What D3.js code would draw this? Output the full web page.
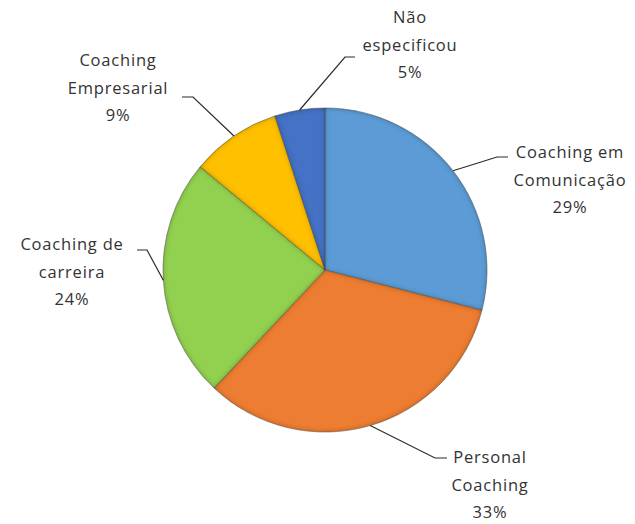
<!DOCTYPE html>
<html>
<head>
<meta charset="utf-8">
<script src="https://cdn.jsdelivr.net/npm/d3@7"></script>
<style>
  html, body { margin: 0; padding: 0; background: #fff; }
  svg { display: block; }
  .lbl { font-family: "Open Sans", "Liberation Sans", sans-serif; font-size: 16.5px; fill: #333; letter-spacing: 0.8px; }
</style>
</head>
<body>
<svg id="chart" width="635" height="524"></svg>
<script>
// Categories (each label split into its display lines), shares in percent, slice colours
const categories = [
  ["Coaching em", "Comunicação"],
  ["Personal", "Coaching"],
  ["Coaching de", "carreira"],
  ["Coaching", "Empresarial"],
  ["Não", "especificou"]
];
const shares = [29, 33, 24, 9, 5];
const colors = ["#5b9bd5", "#ed7d31", "#92d050", "#ffc000", "#4472c4"];

const cx = 325, cy = 270, R = 162;

const svg = d3.select("#chart");

// Inner bevel shading applied to each slice
const defs = svg.append("defs");
const f = defs.append("filter").attr("id", "bevel")
  .attr("x", "-20%").attr("y", "-20%").attr("width", "140%").attr("height", "140%");
f.append("feFlood").attr("flood-color", "#000").attr("flood-opacity", 0.6).attr("result", "flood");
f.append("feComposite").attr("in", "flood").attr("in2", "SourceAlpha").attr("operator", "out").attr("result", "outside");
f.append("feGaussianBlur").attr("in", "outside").attr("stdDeviation", 2.8).attr("result", "blur");
f.append("feComposite").attr("in", "blur").attr("in2", "SourceAlpha").attr("operator", "in").attr("result", "shadow");
const fm = f.append("feMerge");
fm.append("feMergeNode").attr("in", "SourceGraphic");
fm.append("feMergeNode").attr("in", "shadow");

const data = categories.map((c, i) => ({ lines: c, value: shares[i], color: colors[i] }));

const pie = d3.pie().value(d => d.value).sort(null);
const arcs = pie(data);
const arc = d3.arc().innerRadius(0).outerRadius(R);

const g = svg.append("g").attr("transform", `translate(${cx},${cy})`);

g.selectAll("path.slice")
  .data(arcs)
  .enter().append("path")
  .attr("class", "slice")
  .attr("d", arc)
  .attr("fill", d => d.data.color)
  .attr("stroke", "rgba(90,90,90,0.55)")
  .attr("stroke-width", 0.8)
  .attr("filter", "url(#bevel)");

// Label layout: elbow of the leader line, its end, and the centre of the middle text line
// (all relative to the pie centre)
const layout = [
  { elbow: [172, -113], end: [183, -113], text: [245, -90] },
  { elbow: [110, 188], end: [122, 188], text: [165, 215] },
  { elbow: [-178, -20], end: [-188, -20], text: [-253, 2] },
  { elbow: [-132, -173], end: [-143, -173], text: [-207, -182] },
  { elbow: [20, -213], end: [30, -213], text: [85, -225] }
];

const lineH = 27.5;

arcs.forEach((a, i) => {
  const mid = (a.startAngle + a.endAngle) / 2;
  const p = [Math.sin(mid) * R, -Math.cos(mid) * R];
  const L = layout[i];
  g.append("polyline")
    .attr("points", [p, L.elbow, L.end].map(q => q.join(",")).join(" "))
    .attr("fill", "none")
    .attr("stroke", "#2b2b2b")
    .attr("stroke-width", 1.2);

  const lines = a.data.lines.concat([d3.format(".0f")(a.data.value) + "%"]);
  const t = g.append("text")
    .attr("class", "lbl")
    .attr("text-anchor", "middle");
  lines.forEach((s, k) => {
    t.append("tspan")
      .attr("x", L.text[0])
      .attr("y", L.text[1] + (k - 1) * lineH)
      .attr("dy", "0.35em")
      .text(s);
  });
});
</script>
</body>
</html>
